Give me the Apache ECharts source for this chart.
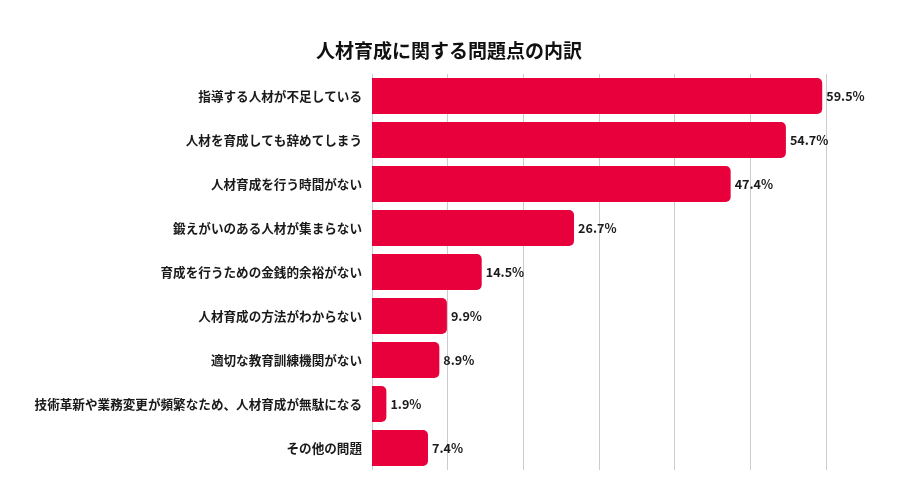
<!DOCTYPE html>
<html>
<head>
<meta charset="utf-8">
<script src="https://cdn.jsdelivr.net/npm/echarts@6/dist/echarts.min.js"></script>
<style>
  html, body { margin: 0; padding: 0; background: #fff; }
  #chart-container { width: 900px; height: 500px; }
</style>
</head>
<body>
<div id="chart-container"></div>
<script>
const categories = [
  "指導する人材が不足している",
  "人材を育成しても辞めてしまう",
  "人材育成を行う時間がない",
  "鍛えがいのある人材が集まらない",
  "育成を行うための金銭的余裕がない",
  "人材育成の方法がわからない",
  "適切な教育訓練機関がない",
  "技術革新や業務変更が頻繁なため、人材育成が無駄になる",
  "その他の問題",
];
const values = [59.5, 54.7, 47.4, 26.7, 14.5, 9.9, 8.9, 1.9, 7.4];

const chartContainer = document.getElementById("chart-container");
const myChart = echarts.init(chartContainer);

const font = '"Noto Sans CJK JP", "Noto Sans", sans-serif';

const option = {
  title: {
    text: "人材育成に関する問題点の内訳",
    left: 444,
    top: 36,
    textAlign: "center",
    textStyle: {
      fontFamily: font,
      fontSize: 19,
      fontWeight: "bold",
      color: "#111",
    },
  },
  grid: {
    left: 372,
    right: 74,
    top: 74,
    bottom: 30,
  },
  xAxis: {
    type: "value",
    min: 0,
    max: 60,
    interval: 10,
    axisLabel: { show: false },
    axisLine: { show: false },
    axisTick: { show: false },
    splitLine: { lineStyle: { color: "#cccccc", width: 1 } },
  },
  yAxis: {
    type: "category",
    inverse: true,
    data: categories,
    axisLine: { show: false },
    axisTick: { show: false },
    axisLabel: {
      margin: 10,
      fontFamily: font,
      fontSize: 12.6,
      fontWeight: "bold",
      color: "#1a1a1a",
    },
  },
  series: [
    {
      type: "bar",
      data: values,
      barWidth: 36,
      itemStyle: {
        color: "#e8003d",
        borderRadius: [0, 5, 5, 0],
      },
      label: {
        show: true,
        position: "right",
        distance: 4,
        formatter: (p) => p.value.toFixed(1) + "%",
        fontFamily: font,
        fontSize: 12.6,
        fontWeight: "bold",
        color: "#1a1a1a",
      },
    },
  ],
};

myChart.setOption(option);
</script>
</body>
</html>
